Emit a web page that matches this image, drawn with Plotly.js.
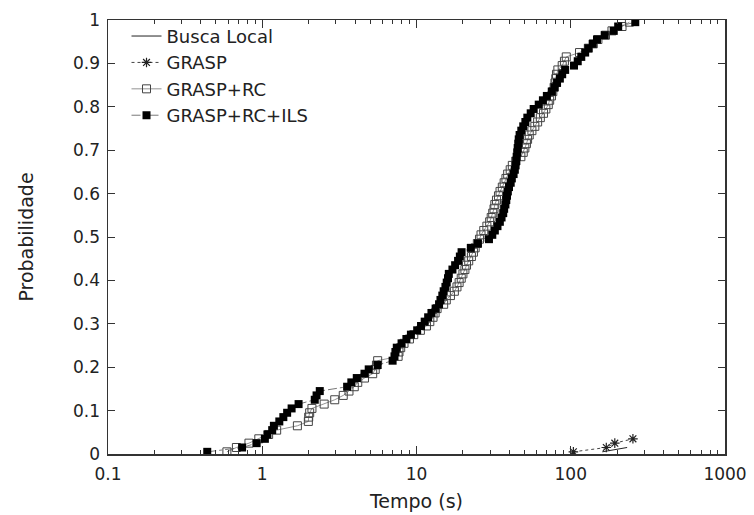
<!DOCTYPE html>
<html>
<head>
<meta charset="utf-8">
<script src="https://cdn.plot.ly/plotly-3.0.1.min.js"></script>
<style>html,body{margin:0;padding:0;background:#fff;}#chart{width:754px;height:515px;}</style>
</head>
<body>
<div id="chart"></div>
<script>
// Busca Local (line only)
var blX = [160, 232];
var blY = [0.005, 0.015];

// GRASP (stars)
var gX = [104, 170, 193, 253];
var gY = [0.005, 0.015, 0.025, 0.035];

// Probabilities shared by the two long series
var probY = [0.005,0.015,0.025,0.035,0.045,0.055,0.065,0.075,0.085,0.095,
             0.105,0.115,0.125,0.135,0.145,0.155,0.165,0.175,0.185,0.195,
             0.205,0.215,0.225,0.235,0.245,0.255,0.265,0.275,0.285,0.295,
             0.305,0.315,0.325,0.335,0.345,0.355,0.365,0.375,0.385,0.395,
             0.405,0.415,0.425,0.435,0.445,0.455,0.465,0.475,0.485,0.495,
             0.505,0.515,0.525,0.535,0.545,0.555,0.565,0.575,0.585,0.595,
             0.605,0.615,0.625,0.635,0.645,0.655,0.665,0.675,0.685,0.695,
             0.705,0.715,0.725,0.735,0.745,0.755,0.765,0.775,0.785,0.795,
             0.805,0.815,0.825,0.835,0.845,0.855,0.865,0.875,0.885,0.895,
             0.905,0.915,0.925,0.935,0.945,0.955,0.965,0.975,0.985,0.995];

// GRASP+RC (open squares)
var rcX = [0.59,0.68,0.82,0.95,1.1,1.24,1.69,1.99,2.0,2.03,
           2.1,2.52,2.95,3.35,3.65,3.95,4.16,4.6,5.2,5.4,
           5.5,5.6,7.6,7.7,7.9,8.3,9.0,9.6,10.6,11.6,
           12.2,12.8,13.2,13.6,15.0,15.6,16.6,17.6,18.3,18.9,
           19.5,20.0,20.6,21.1,21.8,22.7,23.4,24.0,24.8,25.6,
           26.2,27.3,28.6,29.8,30.5,31.2,31.8,32.2,33.0,34.0,
           34.8,36.0,37.0,38.0,39.0,40.5,41.8,44.0,47.5,49.2,
           50.4,51.6,52.5,53.8,56.0,58.5,61.0,63.5,66.6,69.0,
           71.5,73.0,75.0,76.5,78.0,79.0,80.0,80.8,82.5,88.0,
           91.0,93.5,114,130,140,150,168,185,215,240];

// GRASP+RC+ILS (filled squares)
var ilsX = [0.44,0.74,0.92,1.04,1.08,1.16,1.19,1.29,1.37,1.45,
            1.55,1.72,2.19,2.25,2.36,3.55,3.78,4.1,4.6,4.9,
            5.6,7.0,7.2,7.3,7.45,8.0,8.6,9.2,10.1,10.7,
            11.3,11.9,12.5,13.3,14.0,14.3,14.7,15.0,15.4,15.7,
            16.0,16.2,17.1,17.8,18.6,19.1,19.6,22.5,25.0,29.5,
            31.0,32.2,33.5,34.7,35.6,36.5,37.0,37.7,38.2,38.6,
            39.1,39.8,40.8,41.5,42.6,43.4,43.9,44.3,44.6,45.0,
            45.3,45.7,46.0,46.6,47.8,49.2,50.8,52.3,55.0,57.5,
            62.0,66.0,70.0,75.3,78.5,81.5,85.0,88.0,92.0,105,
            111,117,124,130,139,148,166,190,203,262];

var xTickVals = [0.1, 1, 10, 100, 1000];
var xTickText = ['0.1', '1', '10', '100', '1000'];
var yTickVals = [0,0.1,0.2,0.3,0.4,0.5,0.6,0.7,0.8,0.9,1];

var FONT = 'DejaVu Sans, sans-serif';

var traces = [
  {name:'Busca Local', x:blX, y:blY, type:'scatter', mode:'lines',
   line:{color:'#222', width:1}},
  {name:'GRASP', x:gX, y:gY, type:'scatter', mode:'lines+markers',
   line:{color:'#444', width:1, dash:'dot'},
   marker:{symbol:'asterisk-open', size:8, color:'#222', line:{color:'#222', width:1.2}}},
  {name:'GRASP+RC', x:rcX, y:probY, type:'scatter', mode:'lines+markers',
   line:{color:'#777', width:0.8},
   marker:{symbol:'square-open', size:8, color:'#444', line:{color:'#444', width:1}}},
  {name:'GRASP+RC+ILS', x:ilsX, y:probY, type:'scatter', mode:'lines+markers',
   line:{color:'#555', width:0.8, dash:'dashdot'},
   marker:{symbol:'square', size:8, color:'#000', line:{color:'#000', width:0}}}
];

var layout = {
  width:754, height:515,
  margin:{l:108, r:29, t:20, b:61},
  paper_bgcolor:'#fff', plot_bgcolor:'#fff',
  font:{family:FONT, size:17, color:'#222'},
  showlegend:true,
  legend:{x:0.03, y:1.005, xanchor:'left', yanchor:'top', bgcolor:'rgba(0,0,0,0)',
          borderwidth:0, font:{family:FONT, size:18, color:'#222'}, tracegroupgap:0},
  xaxis:{type:'log', range:[-1, 3], tickvals:xTickVals, ticktext:xTickText,
         ticks:'inside', ticklen:8, tickwidth:1, tickcolor:'#333',
         ticklabelstandoff:4,
         minor:{ticks:'inside', ticklen:4, tickwidth:1, tickcolor:'#333', dtick:'D1', showgrid:false},
         showline:true, linecolor:'#333', linewidth:1.5, mirror:'ticks',
         showgrid:false, zeroline:false,
         tickfont:{family:FONT, size:17, color:'#222'},
         title:{text:'Tempo (s)', font:{family:FONT, size:19, color:'#222'}, standoff:12}},
  yaxis:{range:[0, 1], tickvals:yTickVals,
         ticks:'inside', ticklen:7, tickwidth:1, tickcolor:'#333',
         ticklabelstandoff:3,
         showline:true, linecolor:'#333', linewidth:1.5, mirror:'ticks',
         showgrid:false, zeroline:false,
         tickfont:{family:FONT, size:17, color:'#222'},
         title:{text:'Probabilidade', font:{family:FONT, size:19, color:'#222'}, standoff:34}}
};

Plotly.newPlot('chart', traces, layout, {displayModeBar:false, staticPlot:true});
</script>
</body>
</html>
